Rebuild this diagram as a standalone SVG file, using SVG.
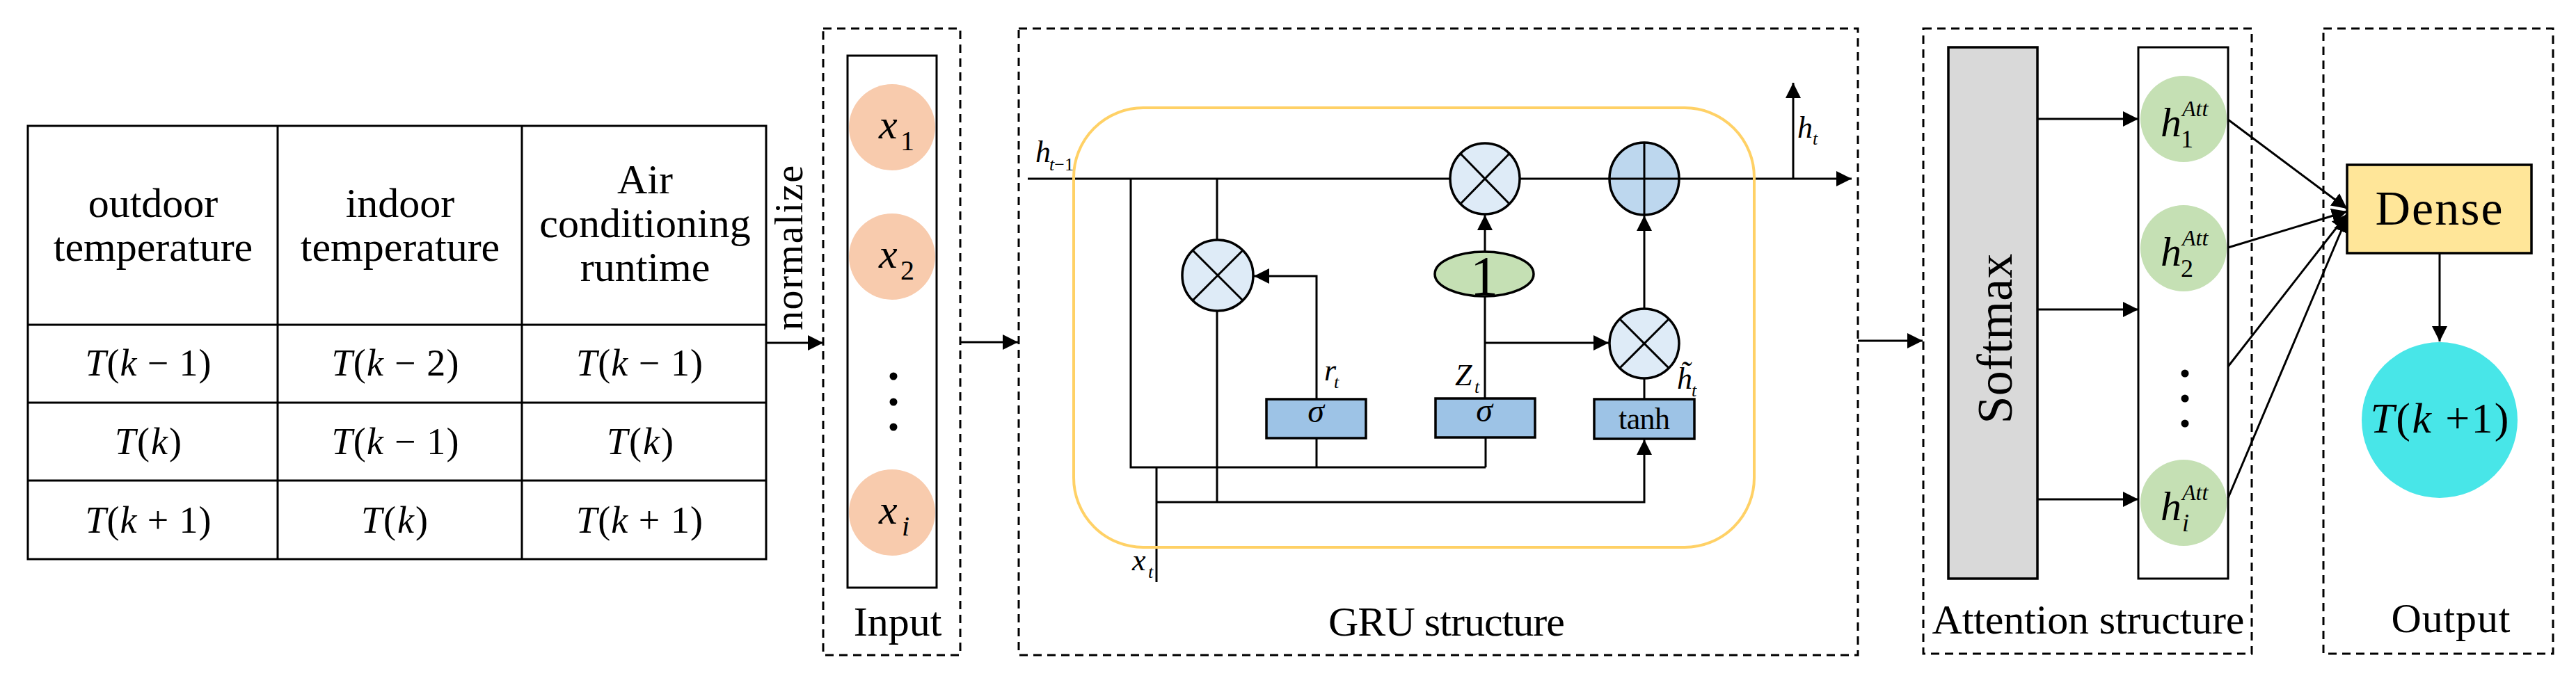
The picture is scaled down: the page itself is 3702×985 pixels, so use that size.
<svg xmlns="http://www.w3.org/2000/svg" width="3702" height="985" viewBox="0 0 3702 985">
<defs>
<marker id="ah" markerUnits="userSpaceOnUse" markerWidth="24" markerHeight="24" refX="22" refY="12" orient="auto">
<path d="M0,1 L22,12 L0,23 z" fill="#000"/>
</marker>
<style>
text{font-family:"Liberation Serif","Times New Roman",serif;fill:#000}
.hd{font-size:60px;text-anchor:middle}
.mt{font-size:54px;text-anchor:middle}
.i{font-style:italic}
.lbl{font-size:60px;text-anchor:middle}
.dash{fill:none;stroke:#000;stroke-width:3;stroke-dasharray:12 8}
.ln{fill:none;stroke:#000;stroke-width:3}
.arr{fill:none;stroke:#000;stroke-width:3;marker-end:url(#ah)}
.cell{fill:#fff;stroke:#000;stroke-width:3}
.mul{fill:#DEEBF7;stroke:#000;stroke-width:3.5}
.add{fill:#BDD7EE;stroke:#000;stroke-width:3.5}
.box{fill:#9DC3E6;stroke:#000;stroke-width:3.5}
.xin{fill:#F8CBAD}
.hat{fill:#C5E0B4}
.dot{fill:#000}
.gl{font-size:44px;font-style:italic}
.gs{font-size:26px;font-style:italic}
</style>
</defs>
<rect width="3702" height="985" fill="#fff"/>

<g id="table">
<rect class="cell" x="40" y="181" width="1061" height="623"/>
<line class="ln" x1="399" y1="181" x2="399" y2="804"/>
<line class="ln" x1="750" y1="181" x2="750" y2="804"/>
<line class="ln" x1="40" y1="467" x2="1101" y2="467"/>
<line class="ln" x1="40" y1="579" x2="1101" y2="579"/>
<line class="ln" x1="40" y1="691" x2="1101" y2="691"/>
<text class="hd" x="220" y="312">outdoor</text>
<text class="hd" x="220" y="375">temperature</text>
<text class="hd" x="575" y="312">indoor</text>
<text class="hd" x="575" y="375">temperature</text>
<text class="hd" x="927" y="278">Air</text>
<text class="hd" x="927" y="341">conditioning</text>
<text class="hd" x="927" y="404">runtime</text>
<text class="mt" x="213" y="540" textLength="181"><tspan class="i">T</tspan>(<tspan class="i">k</tspan> − 1)</text>
<text class="mt" x="568" y="540" textLength="183"><tspan class="i">T</tspan>(<tspan class="i">k</tspan> − 2)</text>
<text class="mt" x="919" y="540" textLength="182"><tspan class="i">T</tspan>(<tspan class="i">k</tspan> − 1)</text>
<text class="mt" x="213" y="653" textLength="96"><tspan class="i">T</tspan>(<tspan class="i">k</tspan>)</text>
<text class="mt" x="568" y="653" textLength="183"><tspan class="i">T</tspan>(<tspan class="i">k</tspan> − 1)</text>
<text class="mt" x="920" y="653" textLength="96"><tspan class="i">T</tspan>(<tspan class="i">k</tspan>)</text>
<text class="mt" x="213" y="766" textLength="181"><tspan class="i">T</tspan>(<tspan class="i">k</tspan> + 1)</text>
<text class="mt" x="567" y="766" textLength="96"><tspan class="i">T</tspan>(<tspan class="i">k</tspan>)</text>
<text class="mt" x="919" y="766" textLength="182"><tspan class="i">T</tspan>(<tspan class="i">k</tspan> + 1)</text>
</g>

<g id="normalize-label">
<text x="1153" y="475" font-size="56" textLength="237" transform="rotate(-90 1153 475)">normalize</text>
</g>

<g id="connectors">
<line class="arr" x1="1101" y1="493" x2="1183" y2="493"/>
<line class="arr" x1="1380" y1="492" x2="1463" y2="492"/>
<line class="arr" x1="2670" y1="490" x2="2763" y2="490"/>
<line class="arr" x1="1477" y1="257" x2="2661" y2="257"/>
<line class="arr" x1="2577" y1="257" x2="2577" y2="119"/>
<polyline class="ln" points="1625,257 1625,672 2135,672"/>
<line class="ln" x1="1749" y1="257" x2="1749" y2="722"/>
<polyline class="arr" points="1892,574 1892,397 1802,397"/>
<line class="ln" x1="1892" y1="630" x2="1892" y2="672"/>
<line class="ln" x1="2135" y1="629" x2="2135" y2="672"/>
<line class="ln" x1="2134" y1="573" x2="2134" y2="426"/>
<line class="arr" x1="2134" y1="362" x2="2134" y2="309"/>
<line class="arr" x1="2134" y1="493" x2="2312" y2="493"/>
<line class="ln" x1="2363" y1="574" x2="2363" y2="544"/>
<line class="arr" x1="2363" y1="444" x2="2363" y2="310"/>
<line class="ln" x1="1662" y1="672" x2="1662" y2="837"/>
<polyline class="arr" points="1662,722 2363,722 2363,632"/>
<line class="arr" x1="2928" y1="171" x2="3073" y2="171"/>
<line class="arr" x1="2928" y1="445" x2="3073" y2="445"/>
<line class="arr" x1="2928" y1="718" x2="3073" y2="718"/>
<line class="arr" x1="3202" y1="172" x2="3373" y2="300"/>
<line class="arr" x1="3202" y1="356" x2="3373" y2="304"/>
<line class="arr" x1="3202" y1="527" x2="3373" y2="308"/>
<line class="arr" x1="3202" y1="716" x2="3373" y2="312"/>
<line class="arr" x1="3506" y1="365" x2="3506" y2="491"/>
</g>

<g id="input">
<rect class="dash" x="1183" y="41" width="197" height="901"/>
<rect class="ln" x="1218" y="80" width="128" height="765"/>
<circle class="xin" cx="1282" cy="183" r="62"/>
<circle class="xin" cx="1282" cy="369" r="62"/>
<circle class="xin" cx="1282" cy="737" r="62"/>
<text x="1263" y="199" font-size="60" font-style="italic">x</text><text x="1294" y="216" font-size="40">1</text>
<text x="1263" y="385" font-size="60" font-style="italic">x</text><text x="1294" y="402" font-size="40">2</text>
<text x="1263" y="753" font-size="60" font-style="italic">x</text><text x="1296" y="770" font-size="40" font-style="italic">i</text>
<circle class="dot" cx="1284" cy="541" r="5.5"/>
<circle class="dot" cx="1284" cy="578" r="5.5"/>
<circle class="dot" cx="1284" cy="614" r="5.5"/>
<text class="lbl" x="1290" y="914">Input</text>
</g>

<g id="gru">
<rect class="dash" x="1464" y="41" width="1206" height="901"/>
<rect x="1543" y="155" width="978" height="632" rx="100" ry="100" fill="none" stroke="#FFD166" stroke-width="4"/>
<text x="1488" y="233" class="gl">h</text><text x="1508" y="245" class="gs">t<tspan font-style="normal">−1</tspan></text>
<text x="2583" y="198" class="gl">h</text><text x="2605" y="208" class="gs">t</text>
<text x="1627" y="820" class="gl">x</text><text x="1650" y="831" class="gs">t</text>
<text x="1903" y="547" class="gl">r</text><text x="1917" y="558" class="gs">t</text>
<text x="2091" y="554" class="gl">Z</text><text x="2119" y="565" class="gs">t</text>
<text x="2410" y="559" class="gl">h&#x303;</text><text x="2431" y="570" class="gs">t</text>
<text class="lbl" x="2079" y="914" textLength="340">GRU structure</text>
</g>

<g id="reset-mul">
<circle class="mul" cx="1750" cy="396" r="51"/>
<path class="ln" d="M1714,360 L1786,432 M1786,360 L1714,432"/>
</g>
<g id="update-mul">
<ellipse class="mul" cx="2134" cy="257" rx="50" ry="51"/>
<path class="ln" d="M2099,221 L2169,293 M2169,221 L2099,293"/>
</g>
<g id="add">
<ellipse class="add" cx="2363" cy="257" rx="50" ry="52"/>
<path class="ln" d="M2313,257 L2413,257 M2363,205 L2363,309"/>
</g>
<g id="cand-mul">
<circle class="mul" cx="2363" cy="494" r="50"/>
<path class="ln" d="M2328,459 L2398,529 M2398,459 L2328,529"/>
</g>
<g id="one">
<ellipse cx="2133" cy="394" rx="71" ry="32" fill="#C5E0B4" stroke="#000" stroke-width="3.5"/>
<text x="2133" y="424" font-size="80" text-anchor="middle">1</text>
</g>
<g id="sigma-r">
<rect class="box" x="1820" y="574" width="143" height="56"/>
<text x="1891" y="607" font-size="48" font-style="italic" text-anchor="middle">σ</text>
</g>
<g id="sigma-z">
<rect class="box" x="2063" y="573" width="143" height="56"/>
<text x="2133" y="606" font-size="48" font-style="italic" text-anchor="middle">σ</text>
</g>
<g id="tanh">
<rect class="box" x="2291" y="574" width="144" height="57"/>
<text x="2363" y="617" font-size="44" text-anchor="middle" textLength="74">tanh</text>
</g>

<g id="attention">
<rect class="dash" x="2764" y="41" width="472" height="899"/>
<rect x="2800" y="68" width="128" height="764" fill="#D9D9D9" stroke="#000" stroke-width="3.5"/>
<text x="2891" y="487" font-size="72" text-anchor="middle" textLength="245" transform="rotate(-90 2891 487)">Softmax</text>
<rect class="ln" x="3073" y="68" width="129" height="764"/>
<circle class="hat" cx="3138" cy="171" r="62"/>
<circle class="hat" cx="3138" cy="357" r="62"/>
<circle class="hat" cx="3138" cy="723" r="62"/>
<text x="3105" y="196" font-size="60" font-style="italic">h</text><text x="3136" y="167" font-size="32" font-style="italic">Att</text><text x="3134" y="212" font-size="36">1</text>
<text x="3105" y="382" font-size="60" font-style="italic">h</text><text x="3136" y="353" font-size="32" font-style="italic">Att</text><text x="3134" y="398" font-size="36">2</text>
<text x="3105" y="748" font-size="60" font-style="italic">h</text><text x="3136" y="719" font-size="32" font-style="italic">Att</text><text x="3136" y="764" font-size="36" font-style="italic">i</text>
<circle class="dot" cx="3140" cy="537" r="5.5"/>
<circle class="dot" cx="3140" cy="573" r="5.5"/>
<circle class="dot" cx="3140" cy="609" r="5.5"/>
<text class="lbl" x="3001" y="911" textLength="449">Attention structure</text>
</g>

<g id="output">
<rect class="dash" x="3339" y="41" width="330" height="899"/>
<rect x="3373" y="237" width="265" height="127" fill="#FFE699" stroke="#000" stroke-width="3.5"/>
<text x="3505" y="323" font-size="70" text-anchor="middle" textLength="183">Dense</text>
<circle cx="3506" cy="604" r="112" fill="#48E6E8"/>
<text x="3506" y="622" font-size="62" text-anchor="middle" textLength="199"><tspan font-style="italic">T</tspan>(<tspan font-style="italic">k</tspan> +1)</text>
<text class="lbl" x="3522" y="909" textLength="171">Output</text>
</g>
</svg>
